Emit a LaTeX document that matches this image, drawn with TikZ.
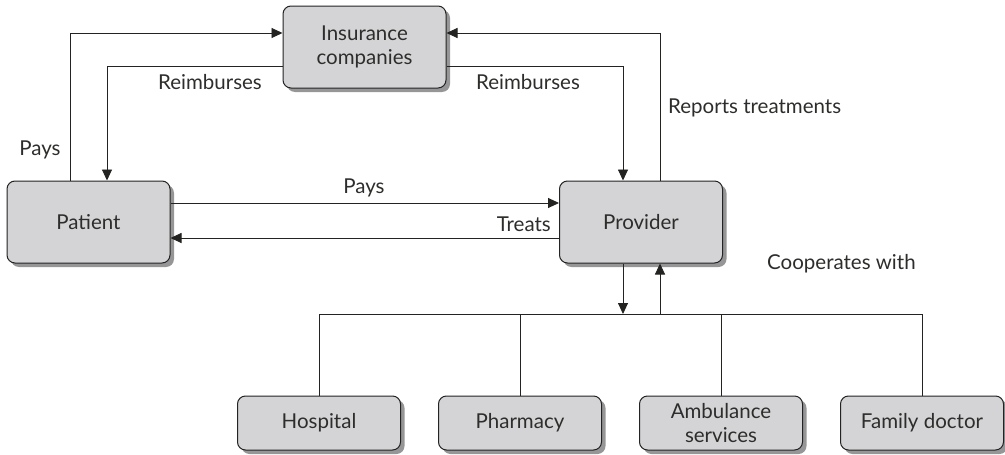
\documentclass[tikz,border=0pt]{standalone}
\usepackage{fontspec}
\setmainfont{Lato}
\usepackage{tikz}
\usetikzlibrary{positioning,arrows.meta,shadows}
\definecolor{colorbox}   {RGB}{212,212,214}
\definecolor{colorshadow}{RGB}{150,150,152}
\definecolor{colorline}  {RGB}{35 ,35 ,33 }
\definecolor{colortext}  {RGB}{45 ,45 ,43 }

\begin{document}
\begin{tikzpicture}[
    x=1pt, y=-1pt,
    node distance = 37pt,
    font={\fontsize{20.5}{24}\selectfont},
    base/.style={text=colortext,draw=colorline,fill=colorbox,line width=1pt,
        rounded corners=8pt,align=center,rectangle,minimum width=163pt,
        drop shadow={shadow xshift=4pt,shadow yshift=-4pt,fill=colorshadow,opacity=1}},
    party/.style={base,minimum height=82pt},
    partner/.style={base,minimum height=54pt},
    txt/.style={text=colortext,align=center,inner sep=0pt},
    link/.style={draw=colorline,line width=0.9pt},
    arr/.style={link,-{Triangle[length=11pt,width=10pt]}},
]
    \useasboundingbox (0,0) rectangle (1005,455);

    % Nodes
    \node[party] (insurance) at (364.5,47)  {Insurance\\companies};
    \node[party] (patient)   at (88.5,222)  {Patient};
    \node[party] (provider)  at (641,222)   {Provider};
    \node[partner] (hospital) at (319,423)  {Hospital};
    \node[partner,right=of hospital]  (pharmacy)  {Pharmacy};
    \node[partner,right=of pharmacy]  (ambulance) {Ambulance\\services};
    \node[partner,right=of ambulance] (family)    {Family doctor};
    \coordinate (bus) at (0,314);

    % Text
    \node[txt] (paystxt)  at (40,150)  {Pays};
    \node[txt] (reimbpat) at (210,82)  {Reimburses};
    \node[txt] (reimbpro) at (528,82)  {Reimburses};
    \node[txt,anchor=west] (reports) at (668,108) {Reports treatments};
    \node[txt] (paysmid)  at (364,188) {Pays};
    \node[txt,anchor=east] (treats) at (551,224) {Treats};
    \node[txt,anchor=west] (coop) at (767,264) {Cooperates with};

    % Arrows
    \draw[arr]([xshift=-18.5pt]patient.north) |- ([yshift=14pt]insurance.west);
    \draw[arr]([yshift=-19pt]insurance.west) -| ([xshift=18.5pt]patient.north);
    \draw[arr]([yshift=-19pt]insurance.east) -| ([xshift=-18pt]provider.north);
    \draw[arr]([xshift=19pt]provider.north) |- ([yshift=14pt]insurance.east);
    \draw[arr]([yshift=19pt]patient.east) -- ([yshift=19pt]provider.west);
    \draw[arr]([yshift=-16pt]provider.west) -- ([yshift=-16pt]patient.east);
    \draw[arr]([xshift=-18pt]provider.south) -- ([xshift=-18pt]provider.south |- bus);
    \draw[arr]([xshift=19pt]provider.south |- bus) -- ([xshift=19pt]provider.south);

    % Bus
    \draw[link](hospital.north |- bus) -- (family.north |- bus);
    \foreach \n in {hospital,pharmacy,ambulance,family}
        \draw[link](\n.north) -- (\n.north |- bus);

\end{tikzpicture}
\end{document}
